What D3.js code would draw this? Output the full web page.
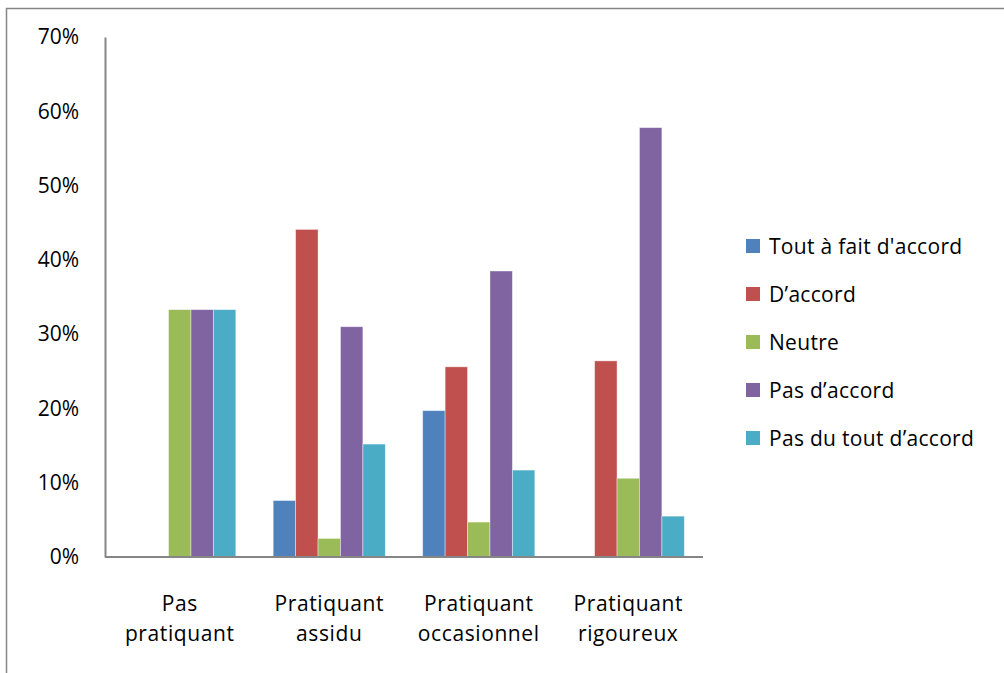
<!DOCTYPE html>
<html><head><meta charset="utf-8">
<script src="https://cdn.jsdelivr.net/npm/d3@7"></script>
<style>body{margin:0;background:#fff;} svg{display:block;} text{font-family:"Open Sans", sans-serif;fill:#000;}</style>
</head><body>
<svg id="c" width="1004" height="673"></svg>
<script>
const categories = [["Pas","pratiquant"],["Pratiquant","assidu"],["Pratiquant","occasionnel"],["Pratiquant","rigoureux"]];
const seriesNames = ["Tout à fait d'accord","D’accord","Neutre","Pas d’accord","Pas du tout d’accord"];
const colors = ["#4F81BD","#C0504D","#9BBB59","#8064A2","#4BACC6"];
const toutAFait = [0, 0.076, 0.197, 0];
const daccord = [0, 0.441, 0.256, 0.264];
const neutre = [0.333, 0.025, 0.047, 0.106];
const pasDaccord = [0.333, 0.31, 0.385, 0.578];
const pasDuTout = [0.333, 0.152, 0.117, 0.055];
const yTicks = [0,0.1,0.2,0.3,0.4,0.5,0.6,0.7];
const series = [toutAFait, daccord, neutre, pasDaccord, pasDuTout];

const svg = d3.select("#c");
svg.append("rect").attr("x",6.5).attr("y",8.5).attr("width",1010).attr("height",680)
  .attr("fill","none").attr("stroke","#868686").attr("stroke-width",1.5);

const L=105, R=703, T=37, B=557;
const catIdx = categories.map((d,i)=>i);
const x0 = d3.scaleBand().domain(catIdx).range([L,R]).paddingInner(0.25).paddingOuter(0.125);
const x1 = d3.scaleBand().domain(d3.range(series.length)).range([0,x0.bandwidth()]);
const y = d3.scaleLinear().domain([0,0.7]).range([B,T]);

const g = svg.append("g");
series.forEach((vals,s)=>{
  g.selectAll(null).data(vals).enter().append("rect")
    .attr("x",(d,i)=>x0(i)+x1(s))
    .attr("width",x1.bandwidth())
    .attr("y",d=>y(d))
    .attr("height",d=>y(0)-y(d))
    .attr("fill",colors[s])
    .attr("stroke", d=> d>0 ? "rgba(255,255,255,0.5)" : "none").attr("stroke-width",0.8);
});

const yAxis = d3.axisLeft(y).tickValues(yTicks).tickFormat(d3.format(".0%")).tickSize(0).tickPadding(26);
const ya = svg.append("g").attr("transform",`translate(${L},0)`).call(yAxis);
ya.select(".domain").attr("stroke","#868686").attr("stroke-width",2);
ya.selectAll("text").style("font-size","21px").style("font-family","'Open Sans', sans-serif").attr("fill","#000");

const xAxis = d3.axisBottom(x0).tickSize(0).tickFormat("");
const xa = svg.append("g").attr("transform",`translate(0,${B})`).call(xAxis);
xa.select(".domain").attr("stroke","#868686").attr("stroke-width",2).attr("d",`M${L},0H${R}`);
categories.forEach((lines,i)=>{
  const cx = x0(i)+x0.bandwidth()/2;
  const t = svg.append("text").attr("x",cx).attr("y",611)
    .attr("text-anchor","middle").style("font-size","21px").style("letter-spacing","0.6px");
  lines.forEach((ln,k)=>t.append("tspan").attr("x",cx).attr("dy",k?30:0).text(ln));
});

const lg = svg.append("g");
seriesNames.forEach((n,i)=>{
  const cy = 246 + i*48;
  lg.append("rect").attr("x",746).attr("y",cy-7).attr("width",14).attr("height",14).attr("fill",colors[i]);
  lg.append("text").attr("x",769).attr("y",cy).attr("dy","0.36em").style("font-size","21px").style("letter-spacing","0.3px").text(n);
});
</script>
</body></html>
